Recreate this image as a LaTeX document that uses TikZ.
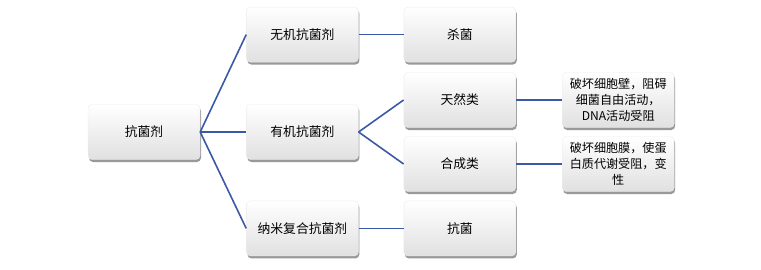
\documentclass[tikz,border=0pt]{standalone}
\usepackage{fontspec}
\setmainfont{Noto Sans CJK SC}
\usepackage{xcolor}
\usetikzlibrary{positioning,shadows}
\definecolor{linkblue}{RGB}{58,90,165}
\tikzset{
  catbox/.style  = {rectangle, rounded corners=4pt, draw=gray!15,
                    top color=white, bottom color=gray!24,
                    minimum width=112pt, minimum height=55pt,
                    inner sep=1pt, align=center,
                    font=\fontsize{12.8}{16}\selectfont,
                    drop shadow={shadow xshift=1pt, shadow yshift=-2.5pt,
                                 opacity=0.4, fill=black}},
  notebox/.style = {catbox, font=\fontsize{12.1}{16}\selectfont},
  link/.style    = {draw=linkblue, line width=1.6pt},
}

\begin{document}
\begin{tikzpicture}[x=1pt, y=1pt]

  \useasboundingbox (0,0) rectangle (761,-270);

  %% ---- Root ----
  \node[catbox] (root) at (144,-132) {抗菌剂};

  %% ---- First level ----
  \node[catbox, right=46pt of root]   (organic)   {有机抗菌剂};
  \node[catbox, above=42pt of organic] (inorganic) {无机抗菌剂};
  \node[catbox, below=41pt of organic] (nano)      {纳米复合抗菌剂};

  %% ---- Second level ----
  \node[catbox, right=45pt of inorganic] (kill)    {杀菌};
  \node[catbox, right=45pt of nano]      (anti)    {抗菌};
  \node[catbox, below=10pt of kill]      (natural) {天然类};
  \node[catbox, above=9pt of anti]       (synth)   {合成类};

  %% ---- Third level ----
  \node[notebox, right=46pt of natural] (wallnote)
        {破坏细胞壁，阻碍\\细菌自由活动，\\DNA活动受阻};
  \node[notebox, right=46pt of synth]   (membnote)
        {破坏细胞膜，使蛋\\白质代谢受阻，变\\性};

  %% ---- Connectors ----
  \draw[link] (root.east) -- (inorganic.west);
  \draw[link] (root.east) -- (organic.west);
  \draw[link] (root.east) -- (nano.west);

  \draw[link] (inorganic.east) -- (kill.west);
  \draw[link] (organic.east)   -- (natural.west);
  \draw[link] (organic.east)   -- (synth.west);
  \draw[link] (nano.east)      -- (anti.west);

  \draw[link] (natural.east) -- (wallnote.west);
  \draw[link] (synth.east)   -- (membnote.west);

\end{tikzpicture}
\end{document}
